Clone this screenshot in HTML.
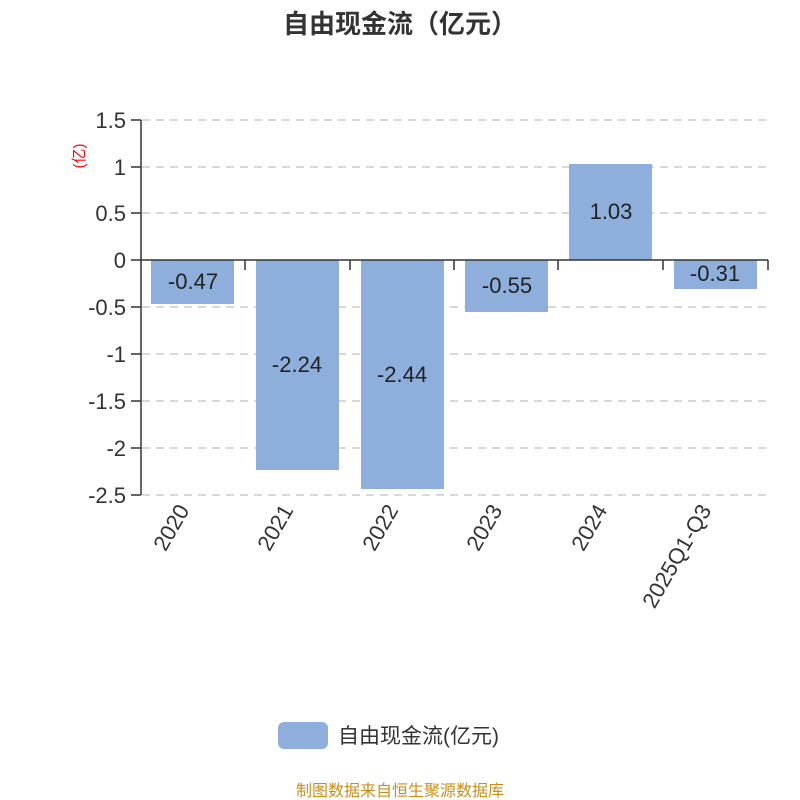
<!DOCTYPE html>
<html><head><meta charset="utf-8"><style>body{margin:0;background:#fff}svg{display:block}text{font-family:"Liberation Sans","Noto Sans CJK SC",sans-serif}</style></head><body>
<svg width="800" height="800" xmlns="http://www.w3.org/2000/svg">
<text x="400" y="33" text-anchor="middle" font-size="26" font-weight="bold" fill="#333">自由现金流（亿元）</text>
<g stroke="#ccc" stroke-dasharray="8,6" stroke-width="1.5">
<line x1="142" y1="120" x2="768" y2="120"/><line x1="142" y1="167" x2="768" y2="167"/><line x1="142" y1="213" x2="768" y2="213"/><line x1="142" y1="307" x2="768" y2="307"/><line x1="142" y1="354" x2="768" y2="354"/><line x1="142" y1="401" x2="768" y2="401"/><line x1="142" y1="448" x2="768" y2="448"/><line x1="142" y1="495" x2="768" y2="495"/>
</g>
<g fill="#8eaedb">
<rect x="151" y="260" width="83" height="44"/>
<rect x="256" y="260" width="83" height="210"/>
<rect x="361" y="260" width="83" height="229"/>
<rect x="465" y="260" width="83" height="52"/>
<rect x="569" y="164" width="83" height="96"/>
<rect x="674" y="260" width="83" height="29"/>
</g>
<g stroke="#333" stroke-width="1.5">
<line x1="141" y1="120" x2="141" y2="495"/>
<line x1="141" y1="260" x2="768" y2="260"/>
<line x1="131" y1="120" x2="141" y2="120"/><line x1="131" y1="167" x2="141" y2="167"/><line x1="131" y1="213" x2="141" y2="213"/><line x1="131" y1="260" x2="141" y2="260"/><line x1="131" y1="307" x2="141" y2="307"/><line x1="131" y1="354" x2="141" y2="354"/><line x1="131" y1="401" x2="141" y2="401"/><line x1="131" y1="448" x2="141" y2="448"/><line x1="131" y1="495" x2="141" y2="495"/>
<line x1="245" y1="260" x2="245" y2="270"/><line x1="350" y1="260" x2="350" y2="270"/><line x1="454" y1="260" x2="454" y2="270"/><line x1="558" y1="260" x2="558" y2="270"/><line x1="663" y1="260" x2="663" y2="270"/><line x1="768" y1="260" x2="768" y2="270"/>
</g>
<g font-size="22" fill="#333" text-anchor="end">
<text x="126" y="128">1.5</text><text x="126" y="175">1</text><text x="126" y="221">0.5</text><text x="126" y="268">0</text><text x="126" y="315">-0.5</text><text x="126" y="362">-1</text><text x="126" y="409">-1.5</text><text x="126" y="456">-2</text><text x="126" y="503">-2.5</text>
</g>
<text transform="translate(84,156) rotate(-90)" text-anchor="middle" font-size="15" fill="#f00">(亿)</text>
<g font-size="22" fill="#222" text-anchor="middle">
<text x="193" y="289">-0.47</text><text x="297" y="372">-2.24</text><text x="402" y="382">-2.44</text><text x="507" y="293">-0.55</text><text x="611" y="219">1.03</text><text x="715" y="281">-0.31</text>
</g>
<g font-size="22" fill="#333" text-anchor="end">
<text transform="translate(190,510) rotate(-60)">2020</text>
<text transform="translate(294,510) rotate(-60)">2021</text>
<text transform="translate(399,510) rotate(-60)">2022</text>
<text transform="translate(503,510) rotate(-60)">2023</text>
<text transform="translate(608,510) rotate(-60)">2024</text>
<text transform="translate(712,510) rotate(-60)">2025Q1-Q3</text>
</g>
<rect x="278" y="722" width="50" height="27" rx="6" fill="#8eaedb"/>
<text x="338" y="743" font-size="21" fill="#333">自由现金流(亿元)</text>
<text x="400" y="796" text-anchor="middle" font-size="16" fill="#c8901a">制图数据来自恒生聚源数据库</text>
</svg>
</body></html>
